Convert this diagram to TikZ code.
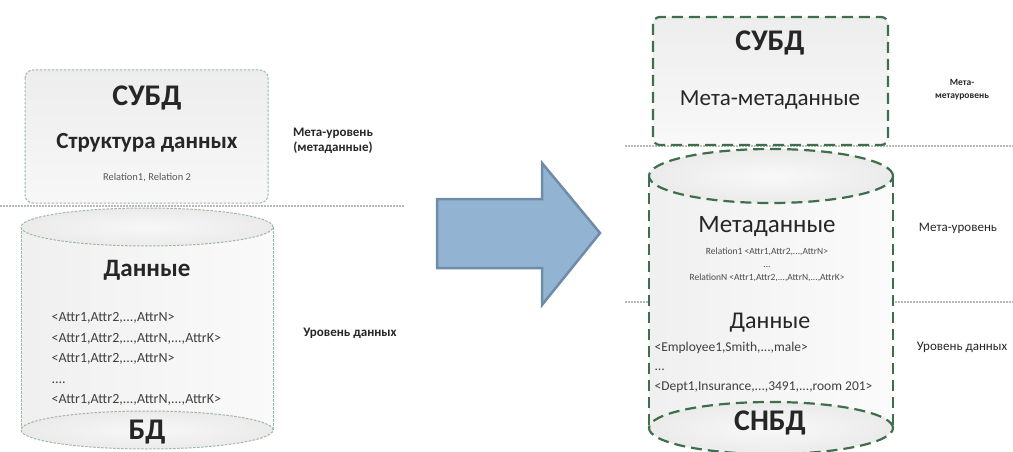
\documentclass[tikz,border=0pt]{standalone}
\usepackage{fontspec}
\setmainfont{Carlito}
\usetikzlibrary{positioning}

\definecolor{oldgreen}{HTML}{9FB8A6}
\definecolor{newgreen}{HTML}{3F6E4A}
\definecolor{arrowfill}{HTML}{93B3D3}
\definecolor{arrowline}{HTML}{6E8CA8}

\begin{document}
\begin{tikzpicture}[x=1pt,y=-1pt,
  oldline/.style={draw=oldgreen, line width=1pt, dash pattern=on 2.5pt off 1.5pt},
  newline/.style={draw=newgreen, line width=2.2pt, dash pattern=on 11pt off 6pt},
  level/.style={draw=gray!55, line width=1.6pt, dash pattern=on 1.5pt off 1.5pt},
  bigtitle/.style={font=\bfseries\fontsize{30}{32}\selectfont, text=black!85},
  midtitle/.style={font=\fontsize{23}{26}\selectfont, text=black!85},
  levelname/.style={font=\bfseries\fontsize{13}{15}\selectfont, text=black!85, align=center},
  tuples/.style={font=\fontsize{14}{20.5}\selectfont, text=black!75, align=left}]
\useasboundingbox (0,0) rectangle (1013,452);

% separators between levels
\draw [level] (0,206) -- (405,206);
\draw [level] (625,146) -- (1013,146);
\draw [level] (625,302) -- (1013,302);

% left: DBMS box and database cylinder
\draw [oldline, rounded corners=8pt, top color=gray!14, bottom color=gray!6] (25,70) rectangle (268,203);
\shade [left color=gray!12, right color=gray!4] (21,227) rectangle (273,430);
\draw [oldline] (21,227) -- (21,430);
\draw [oldline] (273,227) -- (273,430);
\draw [oldline, inner color=gray!6, outer color=gray!16] (147,227) ellipse [x radius=126pt, y radius=19pt];
\draw [oldline, inner color=gray!6, outer color=gray!16] (147,430) ellipse [x radius=126pt, y radius=19pt];

\node [bigtitle] (dbms) at (147,98) {СУБД};
\node [midtitle, font=\bfseries\fontsize{23}{25}\selectfont] (struct) at (147,143) {Структура данных};
\node [font=\fontsize{10.5}{12}\selectfont, text=black!65] (rels) at (147,178) {Relation1, Relation 2};
\node [midtitle, font=\bfseries\fontsize{25}{27}\selectfont] (data) at (147,270) {Данные};
\node [tuples, anchor=west] (rows) at (48,359) {<Attr1,Attr2,...,AttrN>\\<Attr1,Attr2,...,AttrN,...,AttrK>\\<Attr1,Attr2,...,AttrN>\\....\\<Attr1,Attr2,...,AttrN,...,AttrK>};
\node [bigtitle] (db) at (147,432) {БД};
\node [levelname] (metalvl) at (333,141) {Мета-уровень\\(метаданные)};
\node [levelname] (datalvl) at (350,333) {Уровень данных};

% transition arrow
\draw [fill=arrowfill, draw=arrowline, line width=2.5pt, line join=miter]
  (437,199) -- (542,199) -- (542,163) -- (600,233) -- (542,305) -- (542,268) -- (437,268) -- cycle;

% right: database cylinder and DBMS box
\shade [left color=gray!12, right color=gray!3] (649,176) rectangle (893,428);
\draw [newline] (649,176) -- (649,428);
\draw [newline] (893,176) -- (893,428);
\draw [newline, inner color=gray!5, outer color=gray!16] (771,176) ellipse [x radius=122pt, y radius=27pt];
\draw [newline, inner color=gray!5, outer color=gray!16] (771,428) ellipse [x radius=122pt, y radius=26pt];
\draw [newline, rounded corners=7pt, top color=gray!14, bottom color=gray!5] (653,17) rectangle (888,145);

\node [bigtitle] (ndbms) at (770,43) {СУБД};
\node [midtitle] (metameta) at (770,100) {Мета-метаданные};
\node [midtitle, font=\fontsize{25}{27}\selectfont] (meta) at (767,227) {Метаданные};
\node [font=\fontsize{9.5}{13}\selectfont, text=black!70, align=center] (nrels) at (767,265) {Relation1 <Attr1,Attr2,...,AttrN>\\...\\RelationN <Attr1,Attr2,...,AttrN,...,AttrK>};
\node [midtitle, font=\fontsize{24}{26}\selectfont] (ndata) at (770,323) {Данные};
\node [tuples, font=\fontsize{13.5}{19.5}\selectfont, anchor=west] (nrows) at (651,367) {<Employee1,Smith,...,male>\\...\\<Dept1,Insurance,...,3491,...,room 201>};
\node [bigtitle] (ndb) at (770,423) {СНБД};
\node [levelname, font=\bfseries\fontsize{9.5}{13}\selectfont] (nmetameta) at (962,90) {Мета-\\метауровень};
\node [levelname, font=\fontsize{13}{15}\selectfont] (nmetalvl) at (958,228) {Мета-уровень};
\node [levelname, font=\fontsize{13}{15}\selectfont] (ndatalvl) at (962,347) {Уровень данных};
\end{tikzpicture}
\end{document}
